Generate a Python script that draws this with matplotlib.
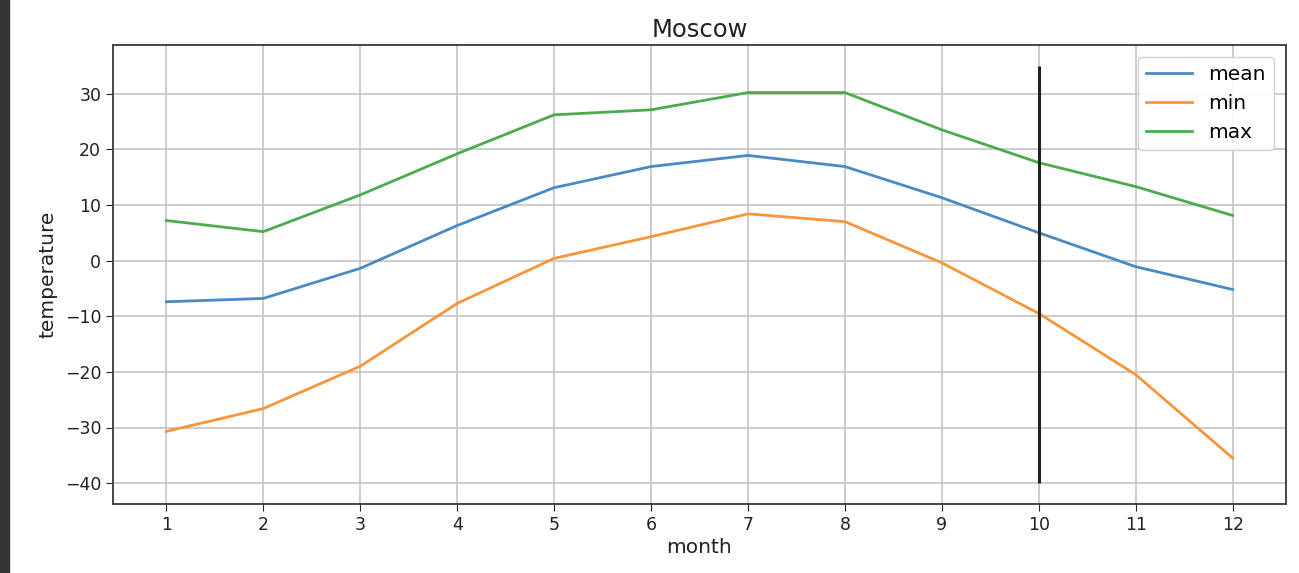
import numpy as np
import matplotlib
matplotlib.use("Agg")
import matplotlib.pyplot as plt
from matplotlib.patches import Rectangle

# donnees (Moscou, temperatures mensuelles)
months = [1, 2, 3, 4, 5, 6, 7, 8, 9, 10, 11, 12]
t_mean = [-7.4, -6.8, -1.4, 6.3, 13.1, 16.9, 18.9, 16.9, 11.3, 5.0, -1.1, -5.2]
t_min = [-30.7, -26.6, -19.0, -7.7, 0.4, 4.3, 8.4, 7.0, -0.4, -9.5, -20.5, -35.5]
t_max = [7.2, 5.2, 11.8, 19.2, 26.2, 27.1, 30.2, 30.2, 23.5, 17.6, 13.3, 8.1]

# mois courant marque par un trait vertical
cur_month = 10
vline_lo, vline_hi = -40, 35

fig = plt.figure(figsize=(12.99, 5.73), dpi=100)
ax = fig.add_axes([113/1299, 1 - 504/573, (1286-113)/1299, (504-45)/573])

# bande sombre a gauche (capture d'ecran)
fig.patches.append(Rectangle((0, 0), 9/1299, 1, transform=fig.transFigure,
                             color='#333333', zorder=0))

ax.plot(months, t_mean, label='mean', lw=2, color='#4a8ac4')
ax.plot(months, t_min, label='min', lw=2, color='#f7953a')
ax.plot(months, t_max, label='max', lw=2, color='#4cab4c')
ax.vlines(cur_month, vline_lo, vline_hi, color='#222222', lw=2.2)

ax.set_xticks(months)
ax.grid(True, color='#c8c8c8', lw=1.3)
ax.tick_params(labelsize=12.5, colors='#222222', length=5)
for s in ax.spines.values():
    s.set_color('#444444')
    s.set_linewidth(1.4)

ax.set_title('Moscow', fontsize=17.5, color='#222222')
ax.set_xlabel('month', fontsize=14.5, color='#222222', labelpad=3)
ax.set_ylabel('temperature', fontsize=14.5, color='#222222', labelpad=5)
ax.legend(loc='upper right', fontsize=14.5, framealpha=0.9, handlelength=2.3,
          borderaxespad=0.6)

fig.savefig('out.png', dpi=100)
